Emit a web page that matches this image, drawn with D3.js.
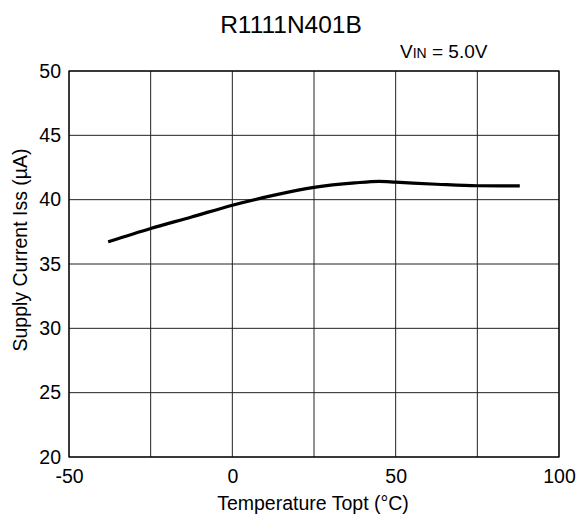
<!DOCTYPE html>
<html>
<head>
<meta charset="utf-8">
<script src="https://cdn.jsdelivr.net/npm/d3@7"></script>
<style>
  body { margin: 0; background: #fff; }
  svg text { font-family: 'Liberation Sans', Arial, sans-serif; fill: #000; }
</style>
</head>
<body>
<div id="chart"></div>
<script>
// values
const temps = [-38, -25, -12.5, 0, 12.5, 25, 37.5, 45, 50, 62.5, 75, 88]
const iss = [36.72, 37.76, 38.65, 39.57, 40.33, 40.95, 41.3, 41.42, 41.36, 41.2, 41.08, 41.07]
const xTicks = [-50, 0, 50, 100]
const xGrid = [-50, -25, 0, 25, 50, 75, 100]
const yTicks = [20, 25, 30, 35, 40, 45, 50]

const width = 578, height = 521
const margin = {top: 71, right: 19, bottom: 64, left: 69}
const labelSize = 19.5

const svg = d3.select('#chart').append('svg')
  .attr('width', width)
  .attr('height', height)

const x = d3.scaleLinear().domain([-50, 100]).range([margin.left, width - margin.right])
const y = d3.scaleLinear().domain([20, 50]).range([height - margin.bottom, margin.top])

// grid
const grid = svg.append('g').attr('class', 'grid')
grid.selectAll('line.v').data(xGrid).join('line')
  .attr('class', 'v')
  .attr('x1', d => x(d)).attr('x2', d => x(d))
  .attr('y1', y(20)).attr('y2', y(50))
  .attr('stroke', '#222').attr('stroke-width', 1)
grid.selectAll('line.h').data(yTicks).join('line')
  .attr('class', 'h')
  .attr('x1', x(-50)).attr('x2', x(100))
  .attr('y1', d => y(d)).attr('y2', d => y(d))
  .attr('stroke', '#222').attr('stroke-width', 1)

svg.append('rect')
  .attr('x', x(-50)).attr('y', y(50))
  .attr('width', x(100) - x(-50)).attr('height', y(20) - y(50))
  .attr('fill', 'none').attr('stroke', '#000').attr('stroke-width', 1.2)

// axes (labels only, lines come from the grid)
const xAxis = d3.axisBottom(x).tickValues(xTicks).tickSize(0).tickFormat(d => String(d))
svg.append('g')
  .attr('transform', `translate(0, ${y(20)})`)
  .call(xAxis)
  .call(g => g.select('.domain').remove())
  .selectAll('text')
    .attr('font-size', labelSize)
    .attr('dy', null)
    .attr('y', 26)

const yAxis = d3.axisLeft(y).tickValues(yTicks).tickSize(0).tickPadding(8)
svg.append('g')
  .attr('transform', `translate(${x(-50)}, 0)`)
  .call(yAxis)
  .call(g => g.select('.domain').remove())
  .selectAll('text').attr('font-size', labelSize)

// curve
const line = d3.line()
  .x((d, i) => x(temps[i]))
  .y(d => y(d))
  .curve(d3.curveMonotoneX)

svg.append('path')
  .datum(iss)
  .attr('d', line)
  .attr('fill', 'none')
  .attr('stroke', '#000')
  .attr('stroke-width', 3.2)

// titles
svg.append('text')
  .attr('x', 291).attr('y', 33)
  .attr('text-anchor', 'middle')
  .attr('font-size', 24.5)
  .text('R1111N401B')

const vin = svg.append('text')
  .attr('x', 400).attr('y', 58)
  .attr('font-size', 19)
vin.append('tspan').text('V')
vin.append('tspan').attr('font-size', 14).text('IN')
vin.append('tspan').text(' = 5.0V')

svg.append('text')
  .attr('x', 313).attr('y', 510)
  .attr('text-anchor', 'middle')
  .attr('font-size', labelSize)
  .text('Temperature Topt (°C)')

svg.append('text')
  .attr('transform', `translate(27, 250) rotate(-90)`)
  .attr('text-anchor', 'middle')
  .attr('font-size', labelSize)
  .text('Supply Current Iss (µA)')
</script>
</body>
</html>
